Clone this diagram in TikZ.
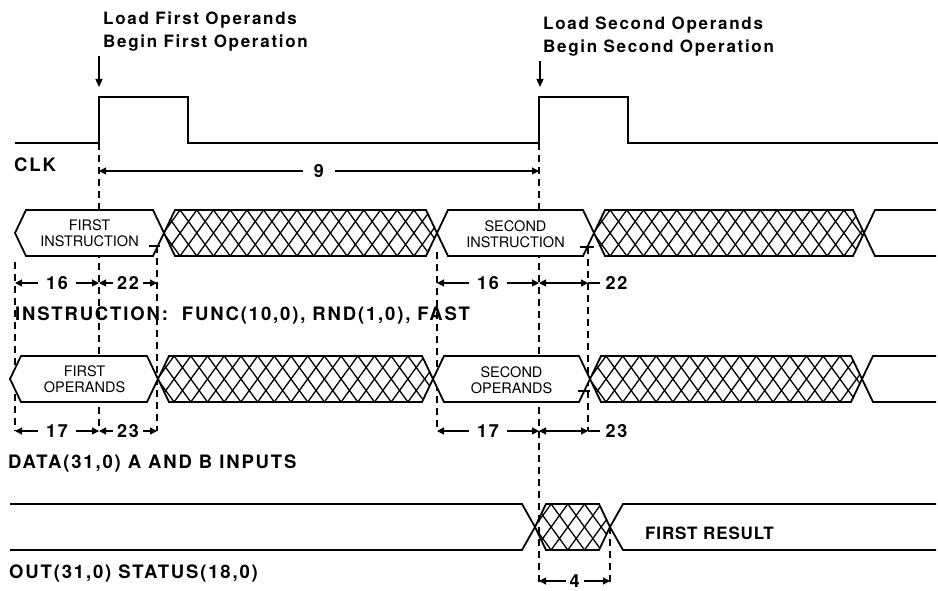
\documentclass[tikz,border=0pt]{standalone}
\usepackage{fontspec}
\setmainfont{TeX Gyre Heros}
\newfontfamily\labfont[LetterSpace=10]{TeX Gyre Heros}
\newfontfamily\resfont[LetterSpace=5]{TeX Gyre Heros}
\usetikzlibrary{arrows.meta}
\tikzset{
  wave/.style={line width=1.8pt, line join=miter},
  busline/.style={line width=1.8pt, line join=miter},
  hatchln/.style={line width=1.3pt},
  dashln/.style={line width=1.3pt, dash pattern=on 7pt off 5pt},
  dimln/.style={line width=1.2pt, {Triangle[length=7pt,width=7pt]}-{Triangle[length=7pt,width=7pt]}},
  dimend/.style={line width=1.2pt},
  tickln/.style={line width=1.2pt},
  lbl/.style={font=\labfont\bfseries\fontsize{18.5}{22}\selectfont, inner sep=0pt, anchor=base west},
  toplbl/.style={font=\labfont\bfseries\fontsize{17}{23}\selectfont, inner sep=0pt, anchor=base west},
  reslbl/.style={font=\resfont\bfseries\fontsize{17}{20}\selectfont, inner sep=0pt, anchor=base west},
  boxtxt/.style={font=\fontsize{14.5}{16.5}\selectfont, align=center, inner sep=0pt},
  dimtxt/.style={font=\labfont\bfseries\fontsize{18}{20}\selectfont, fill=white, inner ysep=1pt, inner xsep=8pt},
  smalldim/.style={dimtxt, inner xsep=4pt, inner ysep=0pt},
  ptr/.style={line width=1.3pt, -{Triangle[length=8pt,width=7pt]}},
}
% hatched (undefined) bus region between crossings #1 and #2, top #3, bottom #4
\newcommand\hatchreg[4]{%
  \pgfmathsetmacro\hM{(#3+#4)/2}%
  \begin{scope}
    \clip (#1,\hM) -- (#1+11,#3) -- (#2-11,#3) -- (#2,\hM) -- (#2-11,#4) -- (#1+11,#4) -- cycle;
    \foreach \k in {0,...,24} {
      \pgfmathsetmacro\hx{#1-34+\k*16.7}
      \draw[hatchln] (\hx,#3) -- (\hx+33.4,#4);
      \draw[hatchln] (\hx+33.4,#3) -- (\hx,#4);
    }
  \end{scope}
  \draw[busline] (#1,\hM) -- (#1+11,#3) -- (#2-11,#3) -- (#2,\hM) -- (#2-11,#4) -- (#1+11,#4) -- cycle;
}
% valid bus region (white)
\newcommand\validreg[4]{%
  \pgfmathsetmacro\hM{(#3+#4)/2}%
  \draw[busline, fill=white] (#1,\hM) -- (#1+11,#3) -- (#2-11,#3) -- (#2,\hM) -- (#2-11,#4) -- (#1+11,#4) -- cycle;
}
\begin{document}
\begin{tikzpicture}[x=1pt,y=-1pt]
\useasboundingbox (0,0) rectangle (938,591);
\fill[white] (0,0) rectangle (938,591);

% ---------- dashed reference lines ----------
\draw[dashln] (99,143) -- (99,431);
\draw[dashln] (15,262) -- (15,431);
\draw[dashln] (157,246) -- (157,431);
\draw[dashln] (437,252) -- (437,431);
\draw[dashln] (539,143) -- (539,582);
\draw[dashln] (588,247) -- (588,431);
\draw[dashln] (610,527) -- (610,582);

% ---------- CLK ----------
\draw[wave] (15,143) -- (99,143) -- (99,97) -- (188,97) -- (188,143) -- (539,143)
  -- (539,97) -- (628,97) -- (628,143) -- (938,143);
\coordinate (r1) at (99,87);
\coordinate (r2) at (540,87);
\coordinate (a1) at (99,56);
\coordinate (a2) at (540,61);
\draw[ptr] (a1) -- (r1);
\draw[ptr] (a2) -- (r2);
\node[toplbl] (lfo) at (103,25) {Load First Operands};
\node[toplbl] (bfo) at (103,48) {Begin First Operation};
\node[toplbl] (lso) at (543,30) {Load Second Operands};
\node[toplbl] (bso) at (543,53) {Begin Second Operation};
\node[lbl] (clk) at (14,172) {CLK};
\draw[dimln] (99,171) -- node[dimtxt, inner xsep=11pt] (n9) {9} (539,171);

% ---------- INSTRUCTION bus ----------
\validreg{15}{164}{210}{256}
\node[boxtxt] (fi) at (89.5,233) {FIRST\\INSTRUCTION};
\hatchreg{164}{437}{210}{256}
\validreg{437}{594}{210}{256}
\node[boxtxt] (si) at (515.5,234) {SECOND\\INSTRUCTION};
\hatchreg{594}{864}{210}{256}
\draw[busline] (936,210) -- (875,210) -- (864,233) -- (875,256) -- (936,256);
\draw[tickln] (149,246) -- (160,246);
\draw[tickln] (580,247) -- (594,247);

\draw[dimln] (15,283) -- node[dimtxt] (d16a) {16} (99,283);
\draw[dimln] (99,283) -- node[smalldim] (d22a) {22} (157,283);
\draw[dimln] (437,283) -- node[dimtxt] (d16b) {16} (539,283);
\draw[dimln] (539,283) -- (588,283);
\draw[dimend] (588,283) -- (600,283) node[dimtxt, anchor=west, inner xsep=5pt] (d22b) {22};
\node[lbl] (ins) at (15,320) {INSTRUCTION:\ \ FUNC(10,0), RND(1,0), FAST};

% ---------- DATA bus ----------
\validreg{10}{158}{356}{402}
\node[boxtxt] (fo) at (84.5,379) {FIRST\\OPERANDS};
\hatchreg{158}{433}{356}{402}
\validreg{433}{590}{356}{402}
\node[boxtxt] (so) at (511.5,380) {SECOND\\OPERANDS};
\hatchreg{590}{862}{356}{402}
\draw[busline] (936,356) -- (873,356) -- (862,379) -- (873,402) -- (936,402);
\draw[tickln] (578,391) -- (590,391);

\draw[dimln] (15,431) -- node[dimtxt] (d17a) {17} (99,431);
\draw[dimln] (99,431) -- node[smalldim] (d23a) {23} (157,431);
\draw[dimln] (437,431) -- node[dimtxt] (d17b) {17} (539,431);
\draw[dimln] (539,431) -- (588,431);
\draw[dimend] (588,431) -- (600,431) node[dimtxt, anchor=west, inner xsep=5pt] (d23b) {23};
\node[lbl] (dat) at (8,468) {DATA(31,0) A AND B INPUTS};

% ---------- OUT bus ----------
\draw[busline, fill=white] (10,504) -- (522,504) -- (535,527) -- (522,550) -- (10,550);
\hatchreg{535}{610}{504}{550}
\draw[busline] (936,504) -- (623,504) -- (610,527) -- (623,550) -- (936,550);
\node[reslbl] (fr) at (645,539) {FIRST RESULT};
\draw[dimln] (539,581) -- node[smalldim] (d4) {4} (610,581);
\node[lbl] (out) at (9,578) {OUT(31,0) STATUS(18,0)};
\end{tikzpicture}
\end{document}
